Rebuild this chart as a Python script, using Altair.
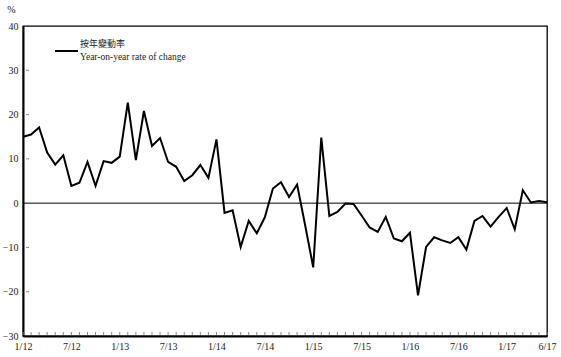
import json
import altair as alt
import pandas as pd

months = [f"{m}/{y}" for y in range(12, 18) for m in range(1, 13)][:66]
values = [
    15.0, 15.5, 17.1, 11.4, 8.7, 10.8, 3.9, 4.6, 9.3, 3.9, 9.5, 9.1,
    10.5, 22.7, 9.7, 20.8, 12.9, 14.7, 9.3, 8.2, 5.0, 6.3, 8.6, 5.7,
    14.4, -2.2, -1.6, -9.9, -4.0, -6.8, -3.2, 3.3, 4.7, 1.4, 4.2, -5.0,
    -14.5, 14.8, -2.9, -2.0, -0.1, -0.2, -2.8, -5.5, -6.5, -3.1, -8.0, -8.6,
    -6.7, -20.8, -9.9, -7.7, -8.4, -9.0, -7.7, -10.5, -4.0, -2.9, -5.3, -3.1,
    -1.1, -5.9, 2.9, 0.15, 0.5, 0.2,
]
tick_pos = [0, 6, 12, 18, 24, 30, 36, 42, 48, 54, 60, 65]
tick_labels = ["1/12", "7/12", "1/13", "7/13", "1/14", "7/14", "1/15", "7/15",
               "1/16", "7/16", "1/17", "6/17"]
y_ticks = [-30, -20, -10, 0, 10, 20, 30, 40]
inner_y_ticks = [-20, -10, 10, 20, 30]
legend_zh = "按年變動率"
legend_en = "Year-on-year rate of change"

df = pd.DataFrame({"idx": list(range(len(values))), "month": months, "value": values})
W, H = 524, 310
SERIF = "Liberation Serif"

label_expr = f"{json.dumps(tick_labels)}[indexof({json.dumps(tick_pos)}, datum.value)]"

x_scale = alt.Scale(domain=[0, 65], nice=False, zero=False)
y_scale = alt.Scale(domain=[-30, 40], nice=False)

line = alt.Chart(df).mark_line(color="black", strokeWidth=2).encode(
    x=alt.X("idx:Q", scale=x_scale,
            axis=alt.Axis(values=tick_pos, labelExpr=label_expr, title=None, ticks=False,
                          grid=False, domainColor="black", domainWidth=2,
                          labelFont=SERIF, labelFontSize=10, labelColor="#222",
                          labelPadding=5, labelFlush=False)),
    y=alt.Y("value:Q", scale=y_scale,
            axis=alt.Axis(values=y_ticks, title="%", titleAngle=0, titleX=-12, titleY=-12,
                          titleFont=SERIF, titleFontSize=10, titleFontWeight="normal",
                          titleColor="#222", ticks=False, grid=False,
                          domainColor="black", domainWidth=2,
                          labelFont=SERIF, labelFontSize=10, labelColor="#222",
                          labelPadding=5)),
)

zero = alt.Chart(pd.DataFrame({"v": [0]})).mark_rule(color="black", strokeWidth=1).encode(
    y=alt.Y("v:Q", scale=y_scale)
)

yt = alt.Chart(pd.DataFrame({"v": inner_y_ticks})).mark_rule(color="#888", strokeWidth=1).encode(
    y=alt.Y("v:Q", scale=y_scale), x=alt.value(3), x2=alt.value(6)
)

xt = alt.Chart(df).mark_rule(color="#888", strokeWidth=1).encode(
    x=alt.X("idx:Q", scale=x_scale), y=alt.value(H - 4), y2=alt.value(H - 1)
)

leg_line = alt.Chart(pd.DataFrame({"a": [0]})).mark_rule(color="black", strokeWidth=2).encode(
    x=alt.value(32), x2=alt.value(55), y=alt.value(25)
)
leg_zh = alt.Chart(pd.DataFrame({"t": [legend_zh]})).mark_text(
    align="left", baseline="middle", font="Noto Sans CJK TC", fontSize=9, color="#222"
).encode(text="t:N", x=alt.value(57), y=alt.value(18))
leg_en = alt.Chart(pd.DataFrame({"t": [legend_en]})).mark_text(
    align="left", baseline="middle", font=SERIF, fontSize=9.5, color="#222"
).encode(text="t:N", x=alt.value(57), y=alt.value(31))

chart = alt.layer(zero, yt, xt, line, leg_line, leg_zh, leg_en).properties(
    width=W, height=H,
    autosize=alt.AutoSizeParams(type="none"),
    padding={"left": 23, "top": 26, "right": 14, "bottom": 21},
    background="white",
).configure_view(stroke="black", strokeWidth=1.3)

chart.save("out.html", embed_options={"renderer": "svg", "actions": False})
